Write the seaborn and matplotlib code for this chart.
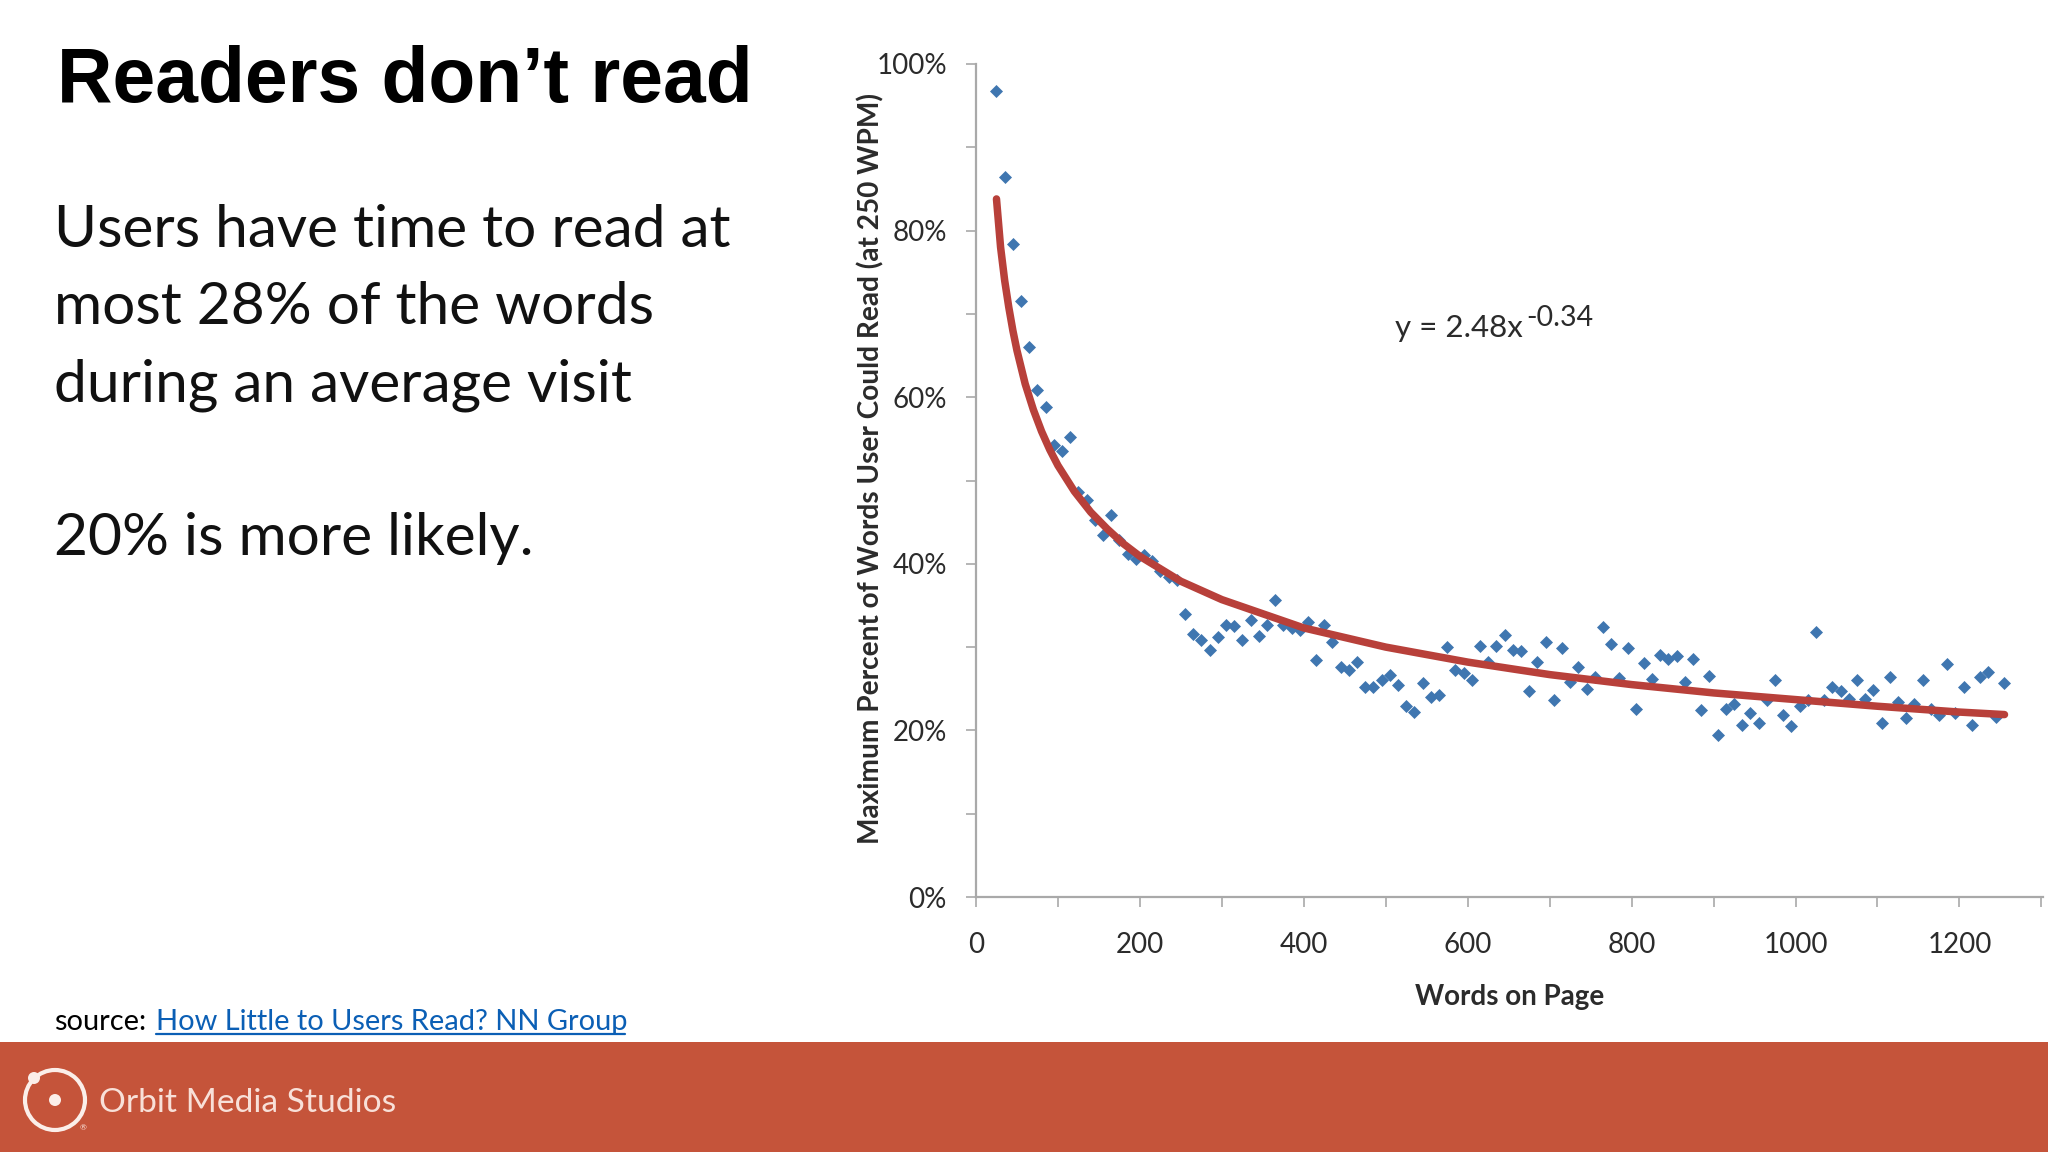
import matplotlib
matplotlib.use("Agg")
import matplotlib.pyplot as plt
import pandas as pd
import seaborn as sns
from matplotlib.patches import Circle, Rectangle

# points
words = [25, 35, 45, 55, 65, 75, 85, 95, 105, 115, 125, 135, 145, 155, 165, 175,
         185, 195, 205, 215, 225, 235, 245, 255, 265, 275, 285, 295, 305, 315, 325,
         335, 345, 355, 365, 375, 385, 395, 405, 415, 425, 435, 445, 455, 465, 475,
         485, 495, 505, 515, 525, 535, 545, 555, 565, 575, 585, 595, 605, 615, 625,
         635, 645, 655, 665, 675, 685, 695, 705, 715, 725, 735, 745, 755, 765, 775,
         785, 795, 805, 815, 825, 835, 845, 855, 865, 875, 885, 895, 905, 915, 925,
         935, 945, 955, 965, 975, 985, 995, 1005, 1015, 1025, 1035, 1045, 1055, 1065,
         1075, 1085, 1095, 1105, 1115, 1125, 1135, 1145, 1155, 1165, 1175, 1185, 1195,
         1205, 1215, 1225, 1235, 1245, 1255]
percent = [96.8, 86.4, 78.4, 71.5, 66.0, 60.9, 58.8, 54.3, 53.6, 55.2, 48.6, 47.7,
           45.2, 43.5, 45.9, 42.8, 41.2, 40.6, 41.1, 40.3, 39.1, 38.4, 38.1,
           34.0, 31.6, 30.9, 29.7, 31.2, 32.6, 32.5, 30.8, 33.2, 31.3,
           32.7, 35.6, 32.6, 32.3, 32.0, 33.0, 28.5, 32.6, 30.6, 27.6,
           27.2, 28.2, 25.2, 25.2, 26.1, 26.6, 25.4, 22.9, 22.2, 25.7,
           24.0, 24.2, 30.0, 27.3, 26.9, 26.0, 30.1, 28.2, 30.1, 31.4,
           29.6, 29.5, 24.7, 28.2, 30.6, 23.6, 29.9, 25.8, 27.6, 25.0, 26.4,
           32.4, 30.4, 26.3, 29.9, 22.6, 28.1, 26.2, 29.0, 28.6, 28.9,
           25.8, 28.6, 22.5, 26.5, 19.4, 22.6, 23.2, 20.6, 22.1, 20.9,
           23.6, 26.0, 21.8, 20.5, 22.9, 23.6, 31.8, 23.7, 25.2, 24.7,
           23.8, 26.0, 23.8, 24.8, 20.9, 26.4, 23.4, 21.5, 23.2, 26.0,
           22.6, 21.8, 28.0, 22.1, 25.2, 20.7, 26.4, 27.0, 21.6, 25.7]

trend_words = [25, 30, 35, 40, 45, 50, 60, 70, 80, 90, 100, 120, 140, 160, 180, 200,
               250, 300, 400, 500, 600, 700, 800, 900, 1000, 1100, 1200, 1255]
trend_percent = [83.8, 78.0, 74.0, 70.8, 68.0, 65.6, 61.6, 58.5, 55.9, 53.7, 51.8, 48.7,
                 46.2, 44.2, 42.4, 40.9, 37.9, 35.7, 32.3, 30.0, 28.2, 26.7, 25.5, 24.5,
                 23.7, 22.9, 22.2, 21.9]

x_major = [0, 200, 400, 600, 800, 1000, 1200]
x_minor = [100, 300, 500, 700, 900, 1100, 1300]
y_major = [0, 20, 40, 60, 80, 100]
y_minor = [10, 30, 50, 70, 90]

body_lines = ["Users have time to read at", "most 28% of the words", "during an average visit"]

sns.set_style("white")
plt.rcParams["font.family"] = ["Lato", "DejaVu Sans"]

W, H = 2048, 1152
GREY = "#a9a9a9"
TEXT = "#2b2b2b"
fig = plt.figure(figsize=(W / 100, H / 100), dpi=100, facecolor="white")

# the slide itself, in pixels
bg = fig.add_axes([0, 0, 1, 1])
bg.set_xlim(0, W)
bg.set_ylim(H, 0)
bg.axis("off")

bg.text(57, 102, "Readers don’t read", family="Liberation Sans", fontweight="bold",
        fontsize=55.3, color="black", va="baseline")
for n, line in enumerate(body_lines):
    bg.text(54, 247 + n * 77, line, fontsize=42.2, color="#111111", va="baseline")
bg.text(54, 555, "20% is more likely.", fontsize=42.2, color="#111111", va="baseline")

bg.text(54, 1030, "source:", fontsize=20.9, color="black", va="baseline")
bg.text(156, 1030, "How Little to Users Read? NN Group", fontsize=20.9, color="#0b5fb5", va="baseline")
bg.plot([156, 625], [1034, 1034], color="#0b5fb5", lw=1.6)

bg.add_patch(Rectangle((0, 1042), W, 110, color="#c5543a", lw=0))
bg.add_patch(Circle((55, 1100), 30, fill=False, ec="#fbeee9", lw=3))
bg.add_patch(Circle((55, 1100), 6, color="#fbeee9", lw=0))
bg.add_patch(Circle((34, 1078), 6, color="#fbeee9", lw=0))
bg.text(99, 1112, "Orbit Media Studios", fontsize=24.1, color="#f8e0d8", va="baseline")
bg.text(83, 1130, "®", fontsize=6, color="#fbe6df", ha="center")

# chart, axes placed on the same pixels as the reference
left, right, top, bottom = 976, 2043, 64, 897
ax = fig.add_axes([left / W, 1 - bottom / H, (right - left) / W, (bottom - top) / H])
ax.patch.set_alpha(0)

points = pd.DataFrame({"words": words, "percent": percent})
trend = pd.DataFrame({"words": trend_words, "percent": trend_percent})
sns.scatterplot(data=points, x="words", y="percent", marker="D", s=44, color="#3f76b0",
                linewidth=0, ax=ax, zorder=2)
sns.lineplot(data=trend, x="words", y="percent", color="#b8403a", lw=5.4, ax=ax, zorder=3)

ax.set_xlim(0, 1302)
ax.set_ylim(0, 100)
ax.set_xticks(x_major)
ax.set_xticks(x_minor, minor=True)
ax.set_yticks(y_major)
ax.set_yticks(y_minor, minor=True)
ax.set_yticklabels([f"{v}%" for v in y_major])
ax.tick_params(axis="both", which="both", direction="out", color=GREY, width=1.2,
               length=7, bottom=True, left=True, labelsize=20, labelcolor=TEXT)
ax.tick_params(axis="x", which="major", pad=18)
ax.tick_params(axis="y", which="major", pad=14)
sns.despine(ax=ax)
for side in ["left", "bottom"]:
    ax.spines[side].set_color(GREY)
    ax.spines[side].set_linewidth(1.6)
ax.set_xlabel("")
ax.set_ylabel("")

bg.text(1510, 997, "Words on Page", fontsize=20, fontweight="bold", color=TEXT,
        ha="center", va="center")
bg.text(871, 468, "Maximum Percent of Words User Could Read (at 250 WPM)", fontsize=20.2,
        fontweight="bold", color=TEXT, rotation=90, ha="center", va="center")
bg.text(1395, 337, "y = 2.48x", fontsize=22.5, color=TEXT, va="baseline")
bg.text(1526, 326, "-0.34", fontsize=20.5, color=TEXT, va="baseline")

fig.savefig("out.png", dpi=100)
